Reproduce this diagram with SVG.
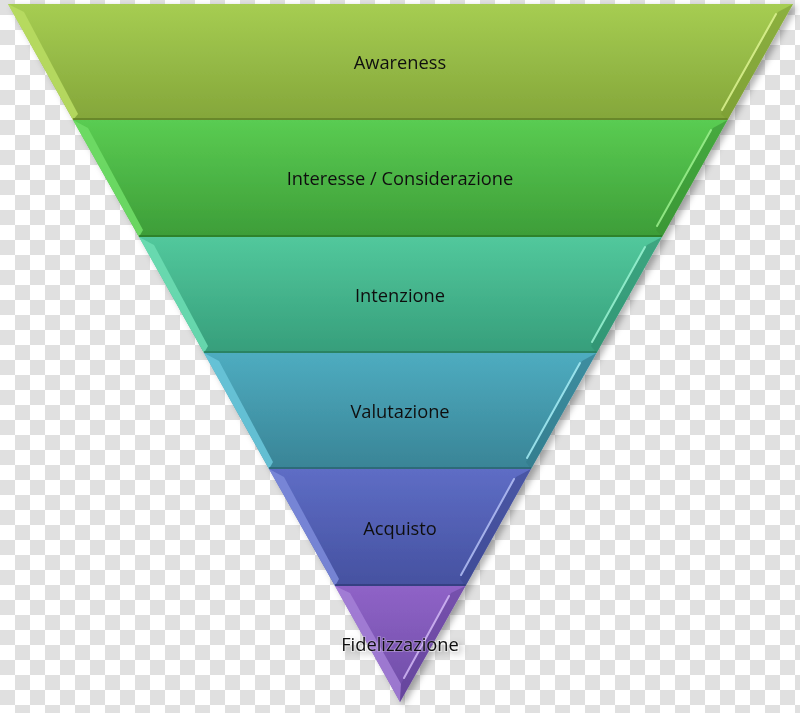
<svg xmlns="http://www.w3.org/2000/svg" width="800" height="713" viewBox="0 0 800 713">
<defs>
<pattern id="checker" x="0" y="0" width="30" height="30" patternUnits="userSpaceOnUse">
<rect width="30" height="30" fill="#ffffff"/>
<rect width="15" height="15" fill="#e0e0e0"/>
<rect x="15" y="15" width="15" height="15" fill="#e0e0e0"/>
</pattern>
<filter id="shadow" x="-5%" y="-5%" width="110%" height="110%">
<feDropShadow dx="4" dy="3" stdDeviation="3" flood-color="#000" flood-opacity="0.3"/>
</filter>
<linearGradient id="g1" x1="0" y1="0" x2="0" y2="1"><stop offset="0" stop-color="#a6cd52"/><stop offset="1" stop-color="#84a63a"/></linearGradient>
<linearGradient id="g2" x1="0" y1="0" x2="0" y2="1"><stop offset="0" stop-color="#5acc52"/><stop offset="1" stop-color="#3d9d38"/></linearGradient>
<linearGradient id="g3" x1="0" y1="0" x2="0" y2="1"><stop offset="0" stop-color="#52c89c"/><stop offset="1" stop-color="#369e7b"/></linearGradient>
<linearGradient id="g4" x1="0" y1="0" x2="0" y2="1"><stop offset="0" stop-color="#4eacc0"/><stop offset="1" stop-color="#398496"/></linearGradient>
<linearGradient id="g5" x1="0" y1="0" x2="0" y2="1"><stop offset="0" stop-color="#5e6dc5"/><stop offset="1" stop-color="#4551a0"/></linearGradient>
<linearGradient id="g6" x1="0" y1="0" x2="0" y2="1"><stop offset="0" stop-color="#8f63c7"/><stop offset="1" stop-color="#6d4ba5"/></linearGradient>
</defs>
<style>
.lbl{font-family:"Open Sans","Liberation Sans",sans-serif;font-size:18.3px;fill:#111111;text-anchor:middle;dominant-baseline:central}
.hl{fill:none;stroke-width:2;stroke-linecap:round;opacity:0.85}
.bot{stroke-width:2;opacity:0.75}
</style>
<rect width="800" height="713" fill="url(#checker)"/>
<g filter="url(#shadow)">
<g id="awareness">
<polygon points="8,4 793,4 727.5,120 73,120" fill="url(#g1)"/>
<polygon points="8,4 24,12 78,114 73,120" fill="#b8dc62" opacity="0.9"/>
<polygon points="793,4 727.5,120 721,114 778,12" fill="#7c9c34" opacity="0.6"/>
<line class="hl" x1="776" y1="14" x2="722" y2="110" stroke="#dcf291"/>
<line class="bot" x1="73" y1="119" x2="727.5" y2="119" stroke="#5f7f24"/>
<text class="lbl" x="400" y="61">Awareness</text>
</g>
<g id="interesse">
<polygon points="73,120 727.5,120 662,237 139,237" fill="url(#g2)"/>
<polygon points="73,120 88,128 143,230 139,237" fill="#6fdc66" opacity="0.9"/>
<polygon points="727.5,120 662,237 656,230 713,128" fill="#389234" opacity="0.6"/>
<line class="hl" x1="711" y1="130" x2="657" y2="226" stroke="#9cf08e"/>
<line class="bot" x1="139" y1="236" x2="662" y2="236" stroke="#2b7a28"/>
<text class="lbl" x="400" y="177">Interesse / Considerazione</text>
</g>
<g id="intenzione">
<polygon points="139,237 662,237 596.5,353 204,353 " fill="url(#g3)"/>
<polygon points="139,237 154,245 208,346 204,353" fill="#6adcb1" opacity="0.9"/>
<polygon points="662,237 596.5,353 591,346 647,245" fill="#2f9070" opacity="0.6"/>
<line class="hl" x1="645" y1="247" x2="592" y2="342" stroke="#9af2d2"/>
<line class="bot" x1="204" y1="352" x2="596.5" y2="352" stroke="#267a5c"/>
<text class="lbl" x="400" y="294">Intenzione</text>
</g>
<g id="valutazione">
<polygon points="204,353 596.5,353 531,469 269,469" fill="url(#g4)"/>
<polygon points="204,353 219,361 273,462 269,469" fill="#68c4d8" opacity="0.9"/>
<polygon points="596.5,353 531,469 526,462 582,361" fill="#327a8a" opacity="0.6"/>
<line class="hl" x1="580" y1="363" x2="527" y2="458" stroke="#a6ecf4"/>
<line class="bot" x1="269" y1="468" x2="531" y2="468" stroke="#2a6270"/>
<text class="lbl" x="400" y="410">Valutazione</text>
</g>
<g id="acquisto">
<polygon points="269,469 531,469 465.5,586 335,586" fill="url(#g5)"/>
<polygon points="269,469 284,477 339,579 335,586" fill="#7a88d8" opacity="0.9"/>
<polygon points="531,469 465.5,586 460,579 516,477" fill="#3c4890" opacity="0.6"/>
<line class="hl" x1="514" y1="479" x2="461" y2="575" stroke="#b4bff4"/>
<line class="bot" x1="335" y1="585" x2="465.5" y2="585" stroke="#303b78"/>
<text class="lbl" x="400" y="527">Acquisto</text>
</g>
<g id="fidelizzazione">
<polygon points="335,586 465.5,586 400,702" fill="url(#g6)"/>
<polygon points="335,586 350,593 401,684 400,702" fill="#a682d8" opacity="0.8"/>
<polygon points="465.5,586 400,702 401,684 451,593" fill="#5e3f94" opacity="0.5"/>
<line class="hl" x1="449" y1="596" x2="404" y2="678" stroke="#d2b8f6"/>
<text class="lbl" x="400" y="643" style="paint-order:stroke;stroke:#ffffff;stroke-opacity:0.25;stroke-width:2px">Fidelizzazione</text>
</g>
</g>
<g id="connectors"/>
</svg>
